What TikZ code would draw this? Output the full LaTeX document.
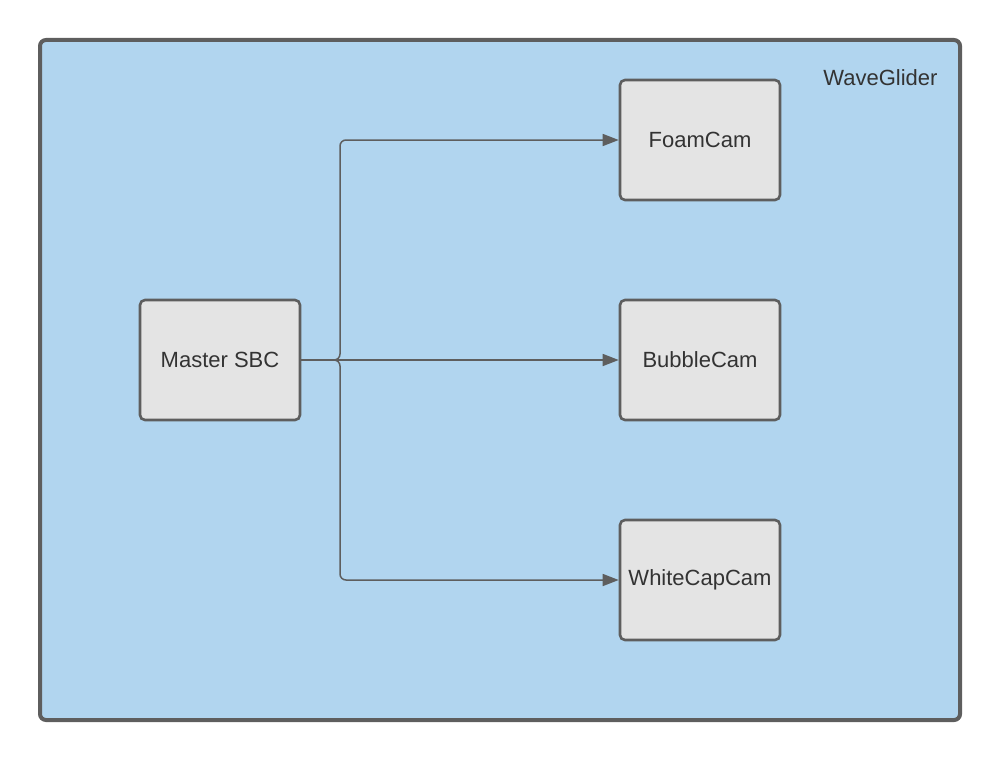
\documentclass[tikz,border=0pt]{standalone}
\usepackage{fontspec}
\setmainfont{Liberation Sans}
\usetikzlibrary{arrows.meta}
\definecolor{outerfill}{HTML}{B1D5EF}
\definecolor{edgegray}{HTML}{5E5E5E}
\definecolor{nodefill}{HTML}{E4E4E4}
\definecolor{txt}{HTML}{333333}
\begin{document}
\begin{tikzpicture}[x=1pt,y=-1pt,
  box/.style={draw=edgegray,line width=2.6pt,fill=nodefill,rounded corners=5pt,
    minimum width=160pt,minimum height=120pt,inner sep=0pt,font=\fontsize{22}{26}\selectfont,text=txt},
  conn/.style={draw=edgegray,line width=1.5pt,rounded corners=6pt,
    -{Triangle[length=16pt,width=12pt]}}]
\useasboundingbox (0,0) rectangle (1000,760);
\node[draw=edgegray,line width=4pt,fill=outerfill,rounded corners=6pt,
  minimum width=920pt,minimum height=680pt,inner sep=0pt] (outer) at (500,380) {};
\node[anchor=base east,font=\fontsize{22}{26}\selectfont,text=txt] (title) at (941,85) {WaveGlider};
\node[box] (m) at (220,360) {Master SBC};
\node[box] (f) at (700,140) {FoamCam};
\node[box] (b) at (700,360) {BubbleCam};
\node[box] (w) at (700,580) {WhiteCapCam};
\coordinate (j) at (340,360);
\draw[conn] (m.east) -- (j) |- (f.west);
\draw[conn] (m.east) -- (b.west);
\draw[conn] (m.east) -- (j) |- (w.west);
\end{tikzpicture}
\end{document}
